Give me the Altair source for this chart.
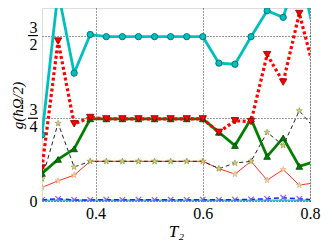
import altair as alt
import pandas as pd

t2 = [0.30, 0.33, 0.36, 0.39, 0.42, 0.45, 0.48, 0.51, 0.54,
      0.57, 0.60, 0.63, 0.66, 0.69, 0.72, 0.75, 0.78, 0.81]

cyan_vals = [0.60, 1.90, 1.16, 1.51, 1.49, 1.49, 1.49, 1.49, 1.49,
             1.49, 1.49, 1.25, 1.24, 1.49, 1.725, 1.665, 2.13, 1.47]
red_dot_vals = [0.30, 1.45, 0.70, 0.757, 0.745, 0.745, 0.745, 0.745, 0.745,
                0.745, 0.745, 0.623, 0.728, 0.72, 1.327, 1.078, 1.70, 1.145]
green_vals = [0.25, 0.377, 0.473, 0.745, 0.745, 0.745, 0.745, 0.745, 0.745,
              0.745, 0.745, 0.623, 0.503, 0.745, 0.404, 0.572, 0.314, 0.36]
black_vals = [0.20, 0.704, 0.308, 0.36, 0.36, 0.36, 0.36, 0.36, 0.36,
              0.36, 0.36, 0.294, 0.344, 0.36, 0.623, 0.503, 0.818, 0.65]
red_thin_vals = [0.123, 0.183, 0.234, 0.36, 0.36, 0.36, 0.36, 0.36, 0.36,
                 0.36, 0.36, 0.294, 0.243, 0.36, 0.189, 0.285, 0.144, 0.166]
blue_vals = [0.010, 0.020, 0.010, 0.010, 0.012, 0.010, 0.012, 0.010, 0.012,
             0.010, 0.012, 0.010, 0.012, 0.015, 0.020, 0.030, 0.020, 0.010]
teal_vals = [0.004] * 18

x_ticks = [0.4, 0.6, 0.8]
y_ticks = [0, 0.75, 1.5]
frac_bars = [0.75, 1.5]

FONT = "Liberation Serif"
STAR = ("M0,-1L0.2245,-0.309L0.951,-0.309L0.363,0.118L0.588,0.809L0,0.382"
        "L-0.588,0.809L-0.363,0.118L-0.951,-0.309L-0.2245,-0.309Z")
XMARK = "M-1,-1L1,1M-1,1L1,-1"

x_scale = alt.Scale(domain=[0.3, 0.8], nice=False, zero=False)
y_scale = alt.Scale(domain=[0, 1.75], nice=False, zero=False)

X = alt.X("T2:Q", scale=x_scale,
          axis=alt.Axis(values=x_ticks, format=".1f", title="T₂",
                        grid=True, gridDash=[1, 2], gridColor="#000000",
                        gridOpacity=0.8, ticks=False, domain=False,
                        labelFont=FONT, labelFontSize=16, labelColor="#000",
                        labelPadding=4, titleFont=FONT, titleFontSize=17,
                        titleFontStyle="italic", titleFontWeight="normal",
                        titleColor="#000", titlePadding=2, labelFlush=False))
Y = alt.Y("g:Q", scale=y_scale,
          axis=alt.Axis(values=y_ticks, title="g(ħΩ/2)",
                        labelExpr="datum.value == 0 ? '0' : (datum.value == 0.75 ? ['3', '4'] : ['3', '2'])",
                        labelLineHeight=17,
                        labelOffset={"condition": {"test": "datum.value > 0", "value": -8.5}, "value": 0},
                        grid=True, gridDash=[1, 2], gridColor="#000000",
                        gridOpacity=0.8, ticks=False, domain=False,
                        labelFont=FONT, labelFontSize=16, labelColor="#000",
                        labelPadding=5, labelFlush=False,
                        titleFont=FONT, titleFontSize=15,
                        titleFontStyle="italic", titleFontWeight="normal",
                        titleColor="#000", titleX=-17, titleY=97,
                        titleAlign="center", titleBaseline="bottom"))


def frame(vals):
    return pd.DataFrame({"T2": t2, "g": vals})


def series(vals, color, width, dash, shape, size, fill, stroke, filled=True, mwidth=0.8):
    df = frame(vals)
    line_kw = dict(color=color, strokeWidth=width, clip=True)
    if dash:
        line_kw["strokeDash"] = dash
    line = alt.Chart(df).mark_line(**line_kw).encode(x=X, y=Y)
    pt_kw = dict(shape=shape, size=size, filled=filled, clip=True,
                 stroke=stroke, strokeWidth=mwidth, opacity=1)
    if filled:
        pt_kw["fill"] = fill
    pts = alt.Chart(df).mark_point(**pt_kw).encode(x=X, y=Y)
    return [line, pts]


layers = []
layers += series(teal_vals, "#40c0c0", 2, None, "circle", 0, "#40c0c0", "#40c0c0")
layers += series(blue_vals, "#2020ff", 1.5, [5, 3], XMARK, 30, None, "#8060ff", filled=False, mwidth=1.2)
layers += series(red_thin_vals, "#ff3020", 1, None, STAR, 40, "#e8e080", "#e0a0a0", mwidth=0.6)
layers += series(black_vals, "#222222", 1, [4, 3], STAR, 40, "#d8d870", "#909050", mwidth=0.6)
layers += series(green_vals, "#008000", 2.8, None, "triangle-up", 45, "#008000", "#004000")
layers += series(red_dot_vals, "#ff0000", 3.2, [3, 2.5], "triangle-down", 55, "#ff0000", "#800000")
layers += series(cyan_vals, "#00bfbf", 2.8, None, "circle", 40, "#00bfbf", "#006060")

bars = alt.Chart(pd.DataFrame({"g": frac_bars})).mark_rule(
    color="#000", strokeWidth=1.2).encode(
    y=Y, x=alt.value(-14), x2=alt.value(-4))
layers.append(bars)

chart = alt.layer(*layers).properties(
    width=268, height=193,
    autosize=alt.AutoSizeParams(type="none"),
    padding={"left": 34, "top": 0, "right": 14, "bottom": 42},
).configure_view(stroke="#555555", strokeWidth=1).configure(background="white")

chart.save("out.html", embed_options={"renderer": "svg", "actions": False})
